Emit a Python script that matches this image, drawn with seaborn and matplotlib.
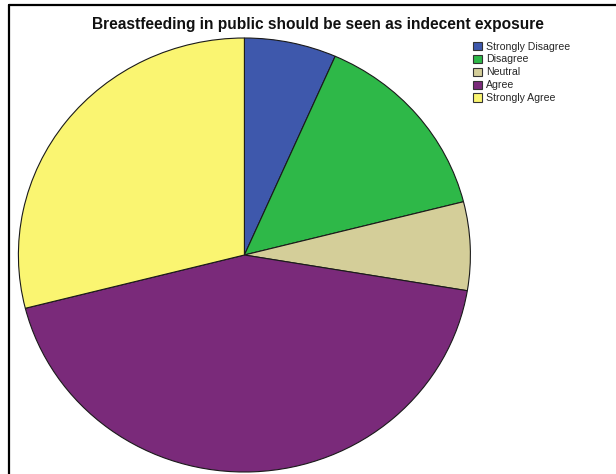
import matplotlib
matplotlib.use("Agg")
import matplotlib.pyplot as plt
from matplotlib.patches import Patch
from matplotlib.lines import Line2D
import seaborn as sns

categories = ["Strongly Disagree", "Disagree", "Neutral", "Agree", "Strongly Agree"]
counts = [5, 11, 5, 33, 22]
colors = ["#3e58ac", "#2eb848", "#d4ce99", "#7a2a7a", "#faf571"]
title = "Breastfeeding in public should be seen as indecent exposure"

sns.set_theme(style="white")
plt.rcParams["font.family"] = ["Liberation Sans", "DejaVu Sans"]

W, H = 616, 474
fig = plt.figure(figsize=(W / 100, H / 100), dpi=100)
fig.patch.set_facecolor("white")

# pie axes: centre (244.4, 255), rx 226, ry 217 (pixels)
cx, cy, rx, ry = 244.4, 255, 226, 217
ax = fig.add_axes([(cx - rx) / W, (H - (cy + ry)) / H, 2 * rx / W, 2 * ry / H])
wedges, _ = ax.pie(counts, colors=colors, startangle=90, counterclock=False,
                   wedgeprops=dict(edgecolor="#1a1a1a", linewidth=0.8))
ax.set_aspect("auto")
ax.set_xlim(-1, 1)
ax.set_ylim(-1, 1)
ax.axis("off")

fig.text(318 / W, 1 - 24 / H, title, ha="center", va="center",
         fontsize=11.2, fontweight="bold", color="#111111")

handles = [Patch(facecolor=c, edgecolor="#333333", linewidth=0.8) for c in colors]
fig.legend(handles, categories, loc="upper left",
           bbox_to_anchor=(473 / W, 1 - 41.5 / H), frameon=False, fontsize=7.6,
           handlelength=0.85, handleheight=0.85, handletextpad=0.35,
           labelspacing=0.28, borderpad=0, borderaxespad=0)

# outer frame (top and left lines)
fig.add_artist(Line2D([9 / W, 1], [1 - 5 / H, 1 - 5 / H], transform=fig.transFigure,
                      color="black", linewidth=1.6))
fig.add_artist(Line2D([9 / W, 9 / W], [0, 1 - 5 / H], transform=fig.transFigure,
                      color="black", linewidth=1.6))

fig.savefig("out.png", dpi=100)
